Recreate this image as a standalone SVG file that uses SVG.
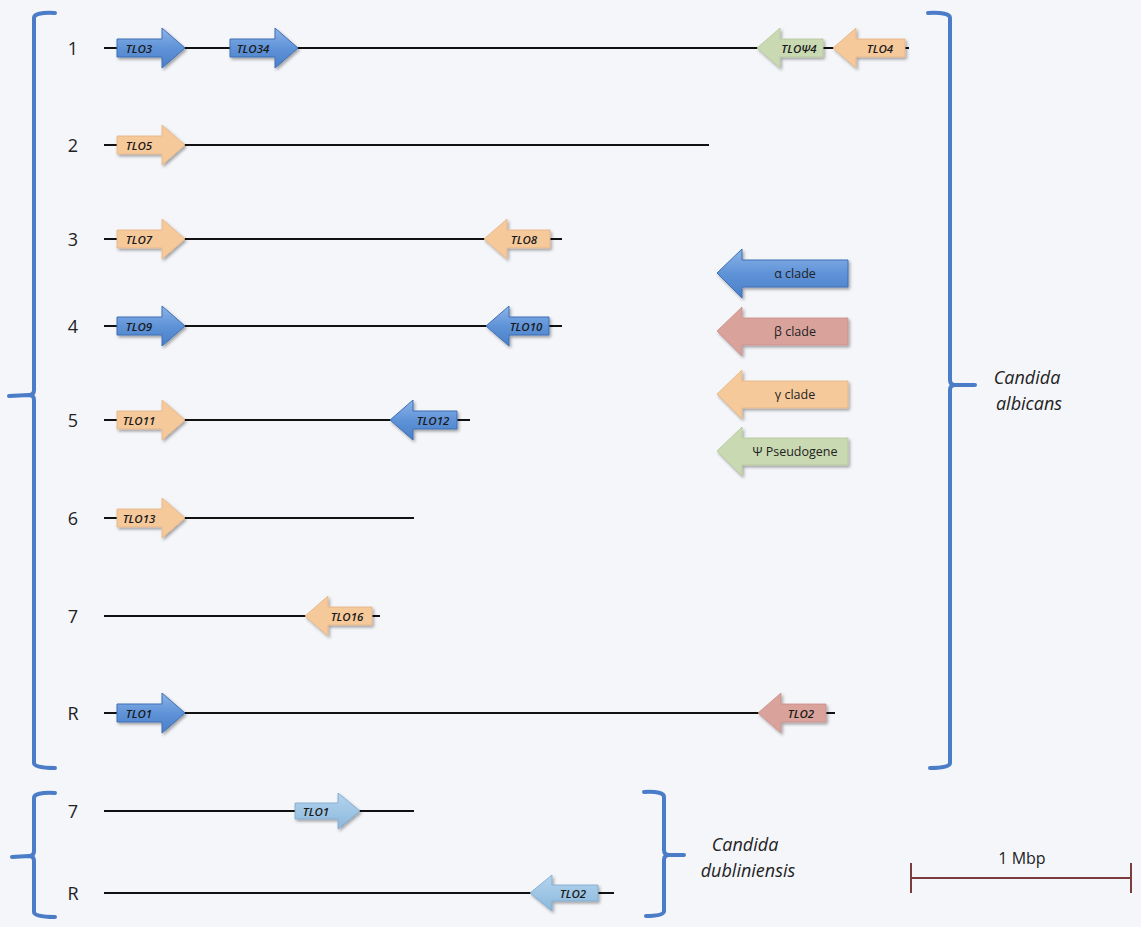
<svg xmlns="http://www.w3.org/2000/svg" width="1141" height="927" viewBox="0 0 1141 927">
<defs>
<filter id="sh" x="-20%" y="-30%" width="150%" height="170%"><feDropShadow dx="1.5" dy="2" stdDeviation="1.5" flood-color="#000" flood-opacity="0.35"/></filter>
<linearGradient id="ga" x1="0" y1="0" x2="0" y2="1"><stop offset="0" stop-color="#8db4e8"/><stop offset="0.5" stop-color="#5f93d8"/><stop offset="1" stop-color="#4a7fc8"/></linearGradient>
<linearGradient id="gd" x1="0" y1="0" x2="0" y2="1"><stop offset="0" stop-color="#b4d4ee"/><stop offset="1" stop-color="#8bb8dc"/></linearGradient>
</defs>
<style>
.bg{fill:#f5f6fa}
.chr{stroke:#111;stroke-width:2.2;fill:none}
.br{stroke:#4a7cc7;stroke-width:4;fill:none;stroke-linejoin:round;stroke-linecap:round}
.a{fill:url(#ga);stroke:#3f6fb5;stroke-width:1;filter:url(#sh)}
.b{fill:#d9a39c;stroke:#c98e88;stroke-width:0.8;filter:url(#sh)}
.g{fill:#f6c99b;stroke:#e6b383;stroke-width:0.8;filter:url(#sh)}
.p{fill:#c9d9b1;stroke:#b5c79c;stroke-width:0.8;filter:url(#sh)}
.d{fill:url(#gd);stroke:#7aa6cc;stroke-width:0.8;filter:url(#sh)}
.gl{font-family:'Open Sans','Liberation Sans',sans-serif;font-style:italic;font-weight:600;font-size:11.5px;fill:#1a1a1a;text-anchor:middle;dominant-baseline:central}
.num{font-family:'Open Sans','Liberation Sans',sans-serif;font-size:18px;fill:#222;text-anchor:middle;dominant-baseline:central}
.lg{font-family:'Open Sans','Liberation Sans',sans-serif;font-size:12.5px;fill:#222;text-anchor:middle;dominant-baseline:central}
.sp{font-family:'Open Sans','Liberation Sans',sans-serif;font-style:italic;font-size:18px;fill:#222;text-anchor:middle}
.sc{stroke:#7a3c3c;stroke-width:2;fill:none}
</style>
<rect class="bg" x="0" y="0" width="1141" height="927"/>

<g id="brackets">
<path class="br" d="M55,13 Q34,12 34,18 L34,390 Q34,395 29,395 L9,396 M34,400 Q34,395 29,395 M34,400 L34,763 Q34,768 55,768"/>
<path class="br" d="M928,13 Q950,12 950,18 L950,380 Q950,385 955,385 L975,385 M950,390 Q950,385 955,385 M950,390 L950,763 Q950,768 930,768"/>
<path class="br" d="M55,793 Q34,792 34,798 L34,851 Q34,856 29,856 L12,857 M34,861 Q34,856 29,856 M34,861 L34,912 Q34,917 55,917"/>
<path class="br" d="M644,792 Q664,791 664,797 L664,850 Q664,855 669,855 L684,855 M664,860 Q664,855 669,855 M664,860 L664,911 Q664,916 646,916"/>
</g>

<g id="connectors">
<line class="chr" x1="104" y1="48" x2="909" y2="48"/>
<line class="chr" x1="104" y1="145" x2="709" y2="145"/>
<line class="chr" x1="104" y1="239" x2="562" y2="239"/>
<line class="chr" x1="104" y1="326" x2="562" y2="326"/>
<line class="chr" x1="104" y1="420" x2="470" y2="420"/>
<line class="chr" x1="104" y1="518" x2="414" y2="518"/>
<line class="chr" x1="104" y1="616" x2="380" y2="616"/>
<line class="chr" x1="104" y1="713" x2="835" y2="713"/>
<line class="chr" x1="104" y1="811" x2="414" y2="811"/>
<line class="chr" x1="104" y1="893" x2="614" y2="893"/>
</g>

<g id="labels">
<text class="num" x="73" y="48">1</text>
<text class="num" x="73" y="145">2</text>
<text class="num" x="73" y="239">3</text>
<text class="num" x="73" y="326">4</text>
<text class="num" x="73" y="420">5</text>
<text class="num" x="73" y="518">6</text>
<text class="num" x="73" y="616">7</text>
<text class="num" x="73" y="713">R</text>
<text class="num" x="73" y="811">7</text>
<text class="num" x="73" y="893">R</text>
</g>

<g id="TLO3"><path class="a" d="M117,39 L162,39 L162,28 L185,48 L162,68 L162,57 L117,57 Z"/><text class="gl" x="139" y="48">TLO3</text></g>
<g id="TLO34"><path class="a" d="M230,39 L275,39 L275,28 L298,48 L275,68 L275,57 L230,57 Z"/><text class="gl" x="253" y="48">TLO34</text></g>
<g id="TLOPsi4"><path class="p" d="M757,48 L780,28 L780,39 L823,39 L823,57 L780,57 L780,68 Z"/><text class="gl" x="799" y="48">TLOΨ4</text></g>
<g id="TLO4"><path class="g" d="M833,48 L856,28 L856,39 L905,39 L905,57 L856,57 L856,68 Z"/><text class="gl" x="880" y="48">TLO4</text></g>

<g id="TLO5"><path class="g" d="M117,136 L162,136 L162,125 L185,145 L162,165 L162,154 L117,154 Z"/><text class="gl" x="139" y="145">TLO5</text></g>

<g id="TLO7"><path class="g" d="M117,230 L162,230 L162,219 L185,239 L162,259 L162,248 L117,248 Z"/><text class="gl" x="139" y="239">TLO7</text></g>
<g id="TLO8"><path class="g" d="M484,239 L507,219 L507,230 L550,230 L550,248 L507,248 L507,259 Z"/><text class="gl" x="524" y="239">TLO8</text></g>

<g id="TLO9"><path class="a" d="M117,317 L162,317 L162,306 L185,326 L162,346 L162,335 L117,335 Z"/><text class="gl" x="139" y="326">TLO9</text></g>
<g id="TLO10"><path class="a" d="M486,326 L509,306 L509,317 L549,317 L549,335 L509,335 L509,346 Z"/><text class="gl" x="526" y="326">TLO10</text></g>

<g id="TLO11"><path class="g" d="M117,411 L162,411 L162,400 L185,420 L162,440 L162,429 L117,429 Z"/><text class="gl" x="139" y="420">TLO11</text></g>
<g id="TLO12"><path class="a" d="M390,420 L413,400 L413,411 L457,411 L457,429 L413,429 L413,440 Z"/><text class="gl" x="433" y="420">TLO12</text></g>

<g id="TLO13"><path class="g" d="M117,509 L162,509 L162,498 L185,518 L162,538 L162,527 L117,527 Z"/><text class="gl" x="139" y="518">TLO13</text></g>

<g id="TLO16"><path class="g" d="M305,616 L328,596 L328,607 L372,607 L372,625 L328,625 L328,636 Z"/><text class="gl" x="347" y="616">TLO16</text></g>

<g id="TLO1"><path class="a" d="M117,704 L162,704 L162,693 L185,713 L162,733 L162,722 L117,722 Z"/><text class="gl" x="139" y="713">TLO1</text></g>
<g id="TLO2"><path class="b" d="M758,713 L781,693 L781,704 L826,704 L826,722 L781,722 L781,733 Z"/><text class="gl" x="801" y="713">TLO2</text></g>

<g id="Cd_TLO1"><path class="d" d="M295,803 L338,803 L338,793 L360,811 L338,829 L338,819 L295,819 Z"/><text class="gl" x="316" y="811">TLO1</text></g>
<g id="Cd_TLO2"><path class="d" d="M530,893 L552,875 L552,885 L598,885 L598,901 L552,901 L552,911 Z"/><text class="gl" x="573" y="893">TLO2</text></g>

<g id="legend">
<g id="leg_alpha"><path class="a" d="M717,273 L742,249 L742,260 L848,260 L848,287 L742,287 L742,298 Z"/><text class="lg" x="795" y="273">α clade</text></g>
<g id="leg_beta"><path class="b" d="M717,331 L742,307 L742,318 L848,318 L848,345 L742,345 L742,356 Z"/><text class="lg" x="795" y="331">β clade</text></g>
<g id="leg_gamma"><path class="g" d="M717,394 L742,370 L742,381 L848,381 L848,408 L742,408 L742,419 Z"/><text class="lg" x="795" y="394">γ clade</text></g>
<g id="leg_psi"><path class="p" d="M717,451 L742,427 L742,438 L848,438 L848,465 L742,465 L742,476 Z"/><text class="lg" x="795" y="451">Ψ Pseudogene</text></g>
</g>

<g id="species">
<text class="sp" x="1027" y="384">Candida</text>
<text class="sp" x="1029" y="410">albicans</text>
<text class="sp" x="745" y="851">Candida</text>
<text class="sp" x="748" y="877">dubliniensis</text>
</g>

<g id="scale">
<line class="sc" x1="911" y1="878" x2="1131" y2="878"/>
<line class="sc" x1="911" y1="863" x2="911" y2="893"/>
<line class="sc" x1="1131" y1="863" x2="1131" y2="893"/>
<text class="lg" x="1022" y="858" style="font-size:16px">1 Mbp</text>
</g>
</svg>
